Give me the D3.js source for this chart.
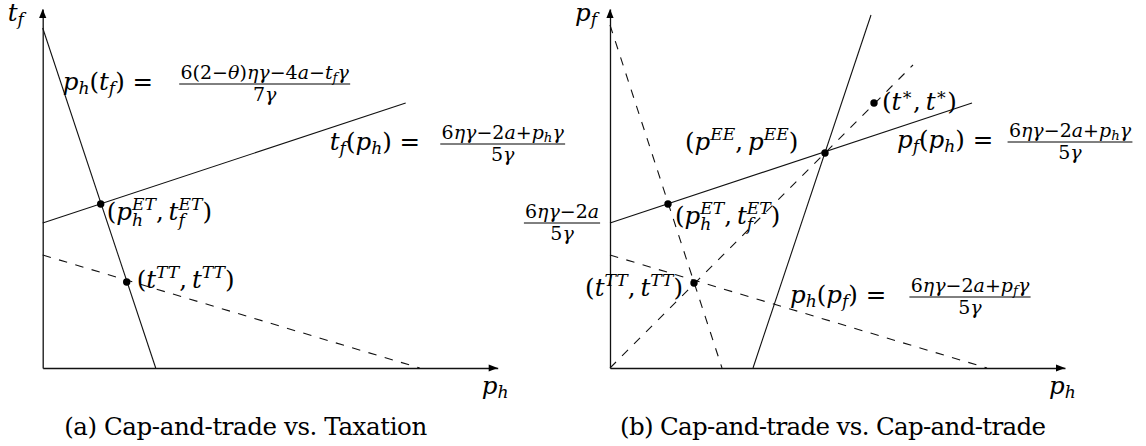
<!DOCTYPE html>
<html>
<head>
<meta charset="utf-8">
<script src="https://cdn.jsdelivr.net/npm/d3@7"></script>
<style>
  body { margin: 0; background: #fff; }
</style>
</head>
<body>
<div id="chart"></div>
<script>
// values, in chart units (0,0 = where the axes meet)
const axisEnd = [4.55, 3.59];
const leftSolid = [[[0, 3.40], [1.13, 0]], [[0, 1.45], [3.63, 2.65]]];
const leftDashed = [[[0, 1.13], [3.77, 0]]];
const leftPoints = [[0.58, 1.64], [0.84, 0.86]];
const rightSolid = [[[0, 1.45], [3.62, 2.65]], [[1.43, 0], [2.61, 3.53]]];
const rightDashed = [[[0, 3.43], [1.12, 0]], [[0, 1.13], [3.77, 0]], [[0, 0], [3.03, 3.03]]];
const rightPoints = [[0.58, 1.64], [0.84, 0.85], [2.15, 2.15], [2.64, 2.65]];
const axisNames = [["t_{f}", "p_{h}"], ["p_{f}", "p_{h}"]];
const captions = ["(a) Cap-and-trade vs. Taxation", "(b) Cap-and-trade vs. Cap-and-trade"];

const FONT = "'DejaVu Serif', 'Liberation Serif', serif";
const FS = 24.5;    // main text size
const FR = 19;      // fraction text size

function main() {
    const svg = d3.select("#chart").append("svg")
        .attr("width", 1146)
        .attr("height", 446)
        .style("font-family", FONT);

    const x = d3.scaleLinear().domain([0, 4.6]).range([0, 460]);
    const y = d3.scaleLinear().domain([0, 3.6]).range([0, -360]);
    const line = d3.line().x(d => x(d[0])).y(d => y(d[1]));

    const panels = [
        { ox: 42.7, oy: 368, solid: leftSolid, dashed: leftDashed, pts: leftPoints },
        { ox: 610, oy: 368, solid: rightSolid, dashed: rightDashed, pts: rightPoints }
    ];

    const gs = panels.map((p, i) => {
        const g = svg.append("g").attr("transform", `translate(${p.ox},${p.oy})`);

        // axes, no ticks, arrow at the end
        const xa = x.copy().domain([0, axisEnd[0]]).range([x(0), x(axisEnd[0])]);
        const ya = y.copy().domain([0, axisEnd[1]]).range([y(0), y(axisEnd[1])]);
        g.append("g").call(d3.axisBottom(xa).tickValues([]).tickSizeOuter(0))
            .select(".domain").attr("stroke", "#111").attr("stroke-width", 1.3);
        g.append("g").call(d3.axisLeft(ya).tickValues([]).tickSizeOuter(0))
            .select(".domain").attr("stroke", "#111").attr("stroke-width", 1.3);
        const tx = x(axisEnd[0]), ty = y(axisEnd[1]);
        g.append("path").attr("d", `M${tx},0L${tx - 9},-3.6L${tx - 9},3.6Z`).attr("fill", "#000");
        g.append("path").attr("d", `M0,${ty}L-3.6,${ty + 9}L3.6,${ty + 9}Z`).attr("fill", "#000");

        g.selectAll(".solid").data(p.solid).join("path")
            .attr("class", "solid")
            .attr("d", line)
            .attr("fill", "none").attr("stroke", "#111").attr("stroke-width", 1.1);
        g.selectAll(".dashed").data(p.dashed).join("path")
            .attr("class", "dashed")
            .attr("d", line)
            .attr("fill", "none").attr("stroke", "#111").attr("stroke-width", 1.1)
            .attr("stroke-dasharray", "8.5,8.5");
        g.selectAll(".pt").data(p.pts).join("circle")
            .attr("class", "pt")
            .attr("cx", d => x(d[0])).attr("cy", d => y(d[1]))
            .attr("r", 3.7).attr("fill", "#000");

        math(g, axisNames[i][0], x(-0.35), y(3.47), FS);
        math(g, axisNames[i][1], x(4.39), y(-0.26), FS);

        g.append("text")
            .attr("x", x(i === 0 ? 2.03 : 2.23)).attr("y", y(-0.67))
            .attr("text-anchor", "middle")
            .attr("font-size", FS)
            .attr("textLength", i === 0 ? 363 : 426)
            .text(captions[i]);
        return g;
    });

    // left panel labels
    const L = gs[0];
    math(L, "p_{h}(t_{f}) = ", x(0.20), y(2.78), FS);
    frac(L, "6(2−θ)ηγ−4a−t_{f}γ", "7γ", x(2.22), y(2.78) - 6, FR);
    math(L, "t_{f}(p_{h}) = ", x(2.87), y(2.18), FS);
    frac(L, "6ηγ−2a+p_{h}γ", "5γ", x(4.60), y(2.18) - 6, FR);
    math(L, "(p_{h}^{ET},\u2009t_{f}^{ET})", x(0.64), y(1.48), FS);
    math(L, "(t^{TT},\u2009t^{TT})", x(0.94), y(0.80), FS);

    // right panel labels
    const R = gs[1];
    frac(R, "6ηγ−2a", "5γ", x(-0.48), y(1.45), FR);
    math(R, "(p^{EE},\u2009p^{EE})", x(0.75), y(2.18), FS);
    math(R, "(t^{∗},\u2009t^{∗})", x(2.72), y(2.58), FS);
    math(R, "p_{f}(p_{h}) = ", x(2.87), y(2.20), FS);
    frac(R, "6ηγ−2a+p_{h}γ", "5γ", x(4.60), y(2.20) - 6, FR);
    math(R, "(p_{h}^{ET},\u2009t_{f}^{ET})", x(0.65), y(1.44), FS);
    math(R, "(t^{TT},\u2009t^{TT})", x(0.73), y(0.72), FS, "end");
    math(R, "p_{h}(p_{f}) = ", x(1.80), y(0.65), FS);
    frac(R, "6ηγ−2a+p_{f}γ", "5γ", x(3.60), y(0.65) - 6, FR);
}

// split "a_{b}^{c}" into base runs and script clusters
function parse(str) {
    const items = [];
    let i = 0;
    while (i < str.length) {
        const c = str[i];
        if (c === "_" || c === "^") {
            let body;
            if (str[i + 1] === "{") {
                const j = str.indexOf("}", i);
                body = str.slice(i + 2, j);
                i = j + 1;
            } else {
                body = str[i + 1];
                i += 2;
            }
            const last = items[items.length - 1];
            const key = c === "_" ? "sub" : "sup";
            if (last && last.script && !last[key]) last[key] = body;
            else items.push({ script: true, [key]: body });
        } else {
            const last = items[items.length - 1];
            if (last && !last.script) last.base += c;
            else items.push({ base: c });
            i++;
        }
    }
    return items;
}

function runs(s) {
    // group characters by italic / upright
    const out = [];
    for (const ch of s) {
        const it = /[A-Za-z\u03b1-\u03c9]/.test(ch);
        const last = out[out.length - 1];
        if (last && last.it === it) last.t += ch;
        else out.push({ t: ch, it: it });
    }
    return out;
}

function math(g, str, px, py, size, anchor) {
    const t = g.append("text")
        .attr("x", px).attr("y", py)
        .attr("font-size", size)
        .attr("text-anchor", anchor || "start");
    let cur = 0, pendingDx = 0;
    const put = (s, fs, target, dx) => {
        const spans = [];
        runs(s).forEach((r, k) => {
            const sp = t.append("tspan")
                .attr("font-size", fs)
                .attr("font-style", r.it ? "italic" : "normal")
                .text(r.t);
            if (k === 0) {
                sp.attr("dy", target - cur);
                if (dx + pendingDx) sp.attr("dx", dx + pendingDx);
                pendingDx = 0;
                cur = target;
            }
            spans.push(sp);
        });
        return d3.sum(spans, s => s.node().getComputedTextLength());
    };
    parse(str).forEach(it => {
        if (!it.script) { put(it.base, size, 0, 0); return; }
        const ss = size * 0.7;
        if (it.sub && it.sup) {
            const w1 = put(it.sub, ss, size * 0.25, 0);
            const w2 = put(it.sup, ss, -size * 0.42, -w1);
            pendingDx = Math.max(0, w1 - w2);
        } else if (it.sub) {
            put(it.sub, ss, size * 0.18, 0);
        } else {
            put(it.sup, ss, -size * 0.42, 0);
        }
    });
    if (cur !== 0) t.append("tspan").attr("dy", -cur).text("");
    return t;
}

function frac(g, num, den, cx, barY, size) {
    const a = math(g, num, cx, barY - 5, size, "middle");
    const b = math(g, den, cx, barY + 17, size, "middle");
    const w = Math.max(a.node().getBBox().width, b.node().getBBox().width);
    g.append("line")
        .attr("x1", cx - w / 2 - 1).attr("x2", cx + w / 2 + 1)
        .attr("y1", barY).attr("y2", barY)
        .attr("stroke", "#000").attr("stroke-width", 1);
}

main();
</script>
</body>
</html>
